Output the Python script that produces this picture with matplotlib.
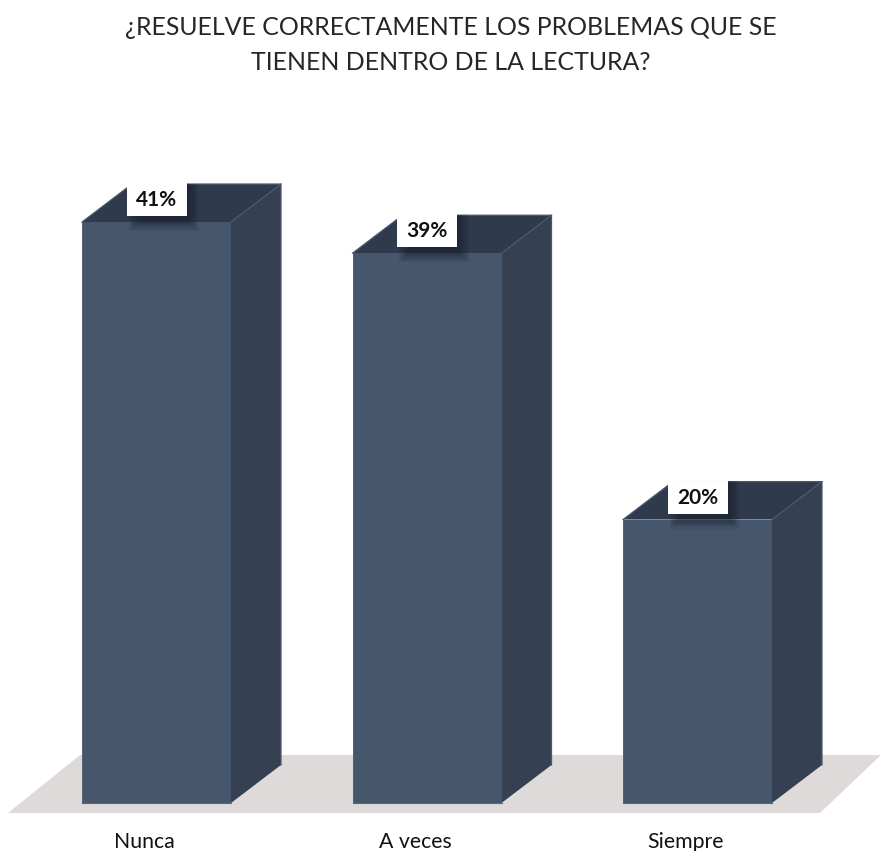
import matplotlib
matplotlib.use("Agg")
import matplotlib.pyplot as plt
from matplotlib.patches import Polygon, Rectangle

plt.rcParams['font.family'] = ['Lato', 'Open Sans', 'DejaVu Sans']

title_lines = ["¿RESUELVE CORRECTAMENTE LOS PROBLEMAS QUE SE", "TIENEN DENTRO DE LA LECTURA?"]
categories = ["Nunca", "A veces", "Siempre"]
heights = [41.0, 38.8, 20.0]
labels = ["41%", "39%", "20%"]

W, H = 881, 851
PX_X = 270.5   # pixels per category
PX_Y = 14.17   # pixels per percentage point
X0, Y0 = 156.5, 803

fig = plt.figure(figsize=(W / 100, H / 100), dpi=100, facecolor="white")
ax = fig.add_axes([0, 0, 1, 1])
ax.set_xlim(-X0 / PX_X, (W - X0) / PX_X)
ax.set_ylim(-(H - Y0) / PX_Y, Y0 / PX_Y)
ax.axis("off")

bar_w = 149 / PX_X
dx, dy = 50 / PX_X, 38 / PX_Y

fx = lambda p: (p - X0) / PX_X
fy = lambda p: (Y0 - p) / PX_Y

# floor
ax.add_patch(Polygon([(fx(8), fy(813)), (fx(80), fy(755)), (fx(881), fy(755)), (fx(820), fy(813))],
                     closed=True, fc="#DEDADA", ec="none", zorder=1))

for i, (h, lab, cat) in enumerate(zip(heights, labels, categories)):
    l, r = i - bar_w / 2, i + bar_w / 2
    # side face
    ax.add_patch(Polygon([(r, 0), (r + dx, dy), (r + dx, h + dy), (r, h)], closed=True,
                         fc="#354153", ec="none", zorder=2))
    # top face
    ax.add_patch(Polygon([(l, h), (l + dx, h + dy), (r + dx, h + dy), (r, h)], closed=True,
                         fc="#2F3A4D", ec="none", zorder=2))
    # front face
    ax.add_patch(Rectangle((l, 0), bar_w, h, fc="#45566D", ec="none", zorder=3))
    # fine light edges
    ax.plot([r, r + dx, r + dx], [h, h + dy, dy], color="#4A586E", lw=0.9, zorder=4)
    ax.plot([l, l + dx, r + dx], [h, h + dy, h + dy], color="#4A586E", lw=0.9, zorder=4)
    ax.plot([l, r], [0, 0], color="#5B6677", lw=0.8, zorder=4)
    ax.plot([l, l], [0, h], color="#5B6677", lw=0.6, zorder=4)

    # soft shadow of the label box, kept inside the bar's top and front faces
    clip = Polygon([(l, 0), (l, h), (l + dx, h + dy), (r + dx, h + dy), (r, h), (r, 0)],
                   closed=True, transform=ax.transData, fc="none", ec="none")
    ax.add_patch(clip)
    cx = i
    cy = h + 22.5 / PX_Y
    bw, bh = 60 / PX_X, 33 / PX_Y
    for k in range(10, 0, -1):
        g = k * 1.2
        s = Rectangle((cx - bw / 2 + (14 - g) / PX_X, cy - bh / 2 - (3 + g) / PX_Y),
                      bw + (2 * g - 14) / PX_X, bh + 2 * g / PX_Y,
                      fc="#161C28", ec="none", alpha=0.075, zorder=5)
        ax.add_patch(s)
        s.set_clip_path(clip)

    ax.add_patch(Rectangle((cx - bw / 2, cy - bh / 2), bw, bh, fc="white", ec="none", zorder=6))
    ax.text(cx, cy - 0.5 / PX_Y, lab, ha="center", va="center", fontsize=15, fontweight="bold",
            color="#111111", zorder=7)
    # category label
    ax.text(i - 12 / PX_X, fy(848), cat, ha="center", va="baseline", fontsize=15.3,
            color="#111111", zorder=7)

for line, base in zip(title_lines, [35, 70]):
    ax.text(fx(451), fy(base), line, ha="center", va="baseline", fontsize=17.9,
            color="#262626", zorder=7)

fig.savefig("out.png", dpi=100, facecolor="white")
